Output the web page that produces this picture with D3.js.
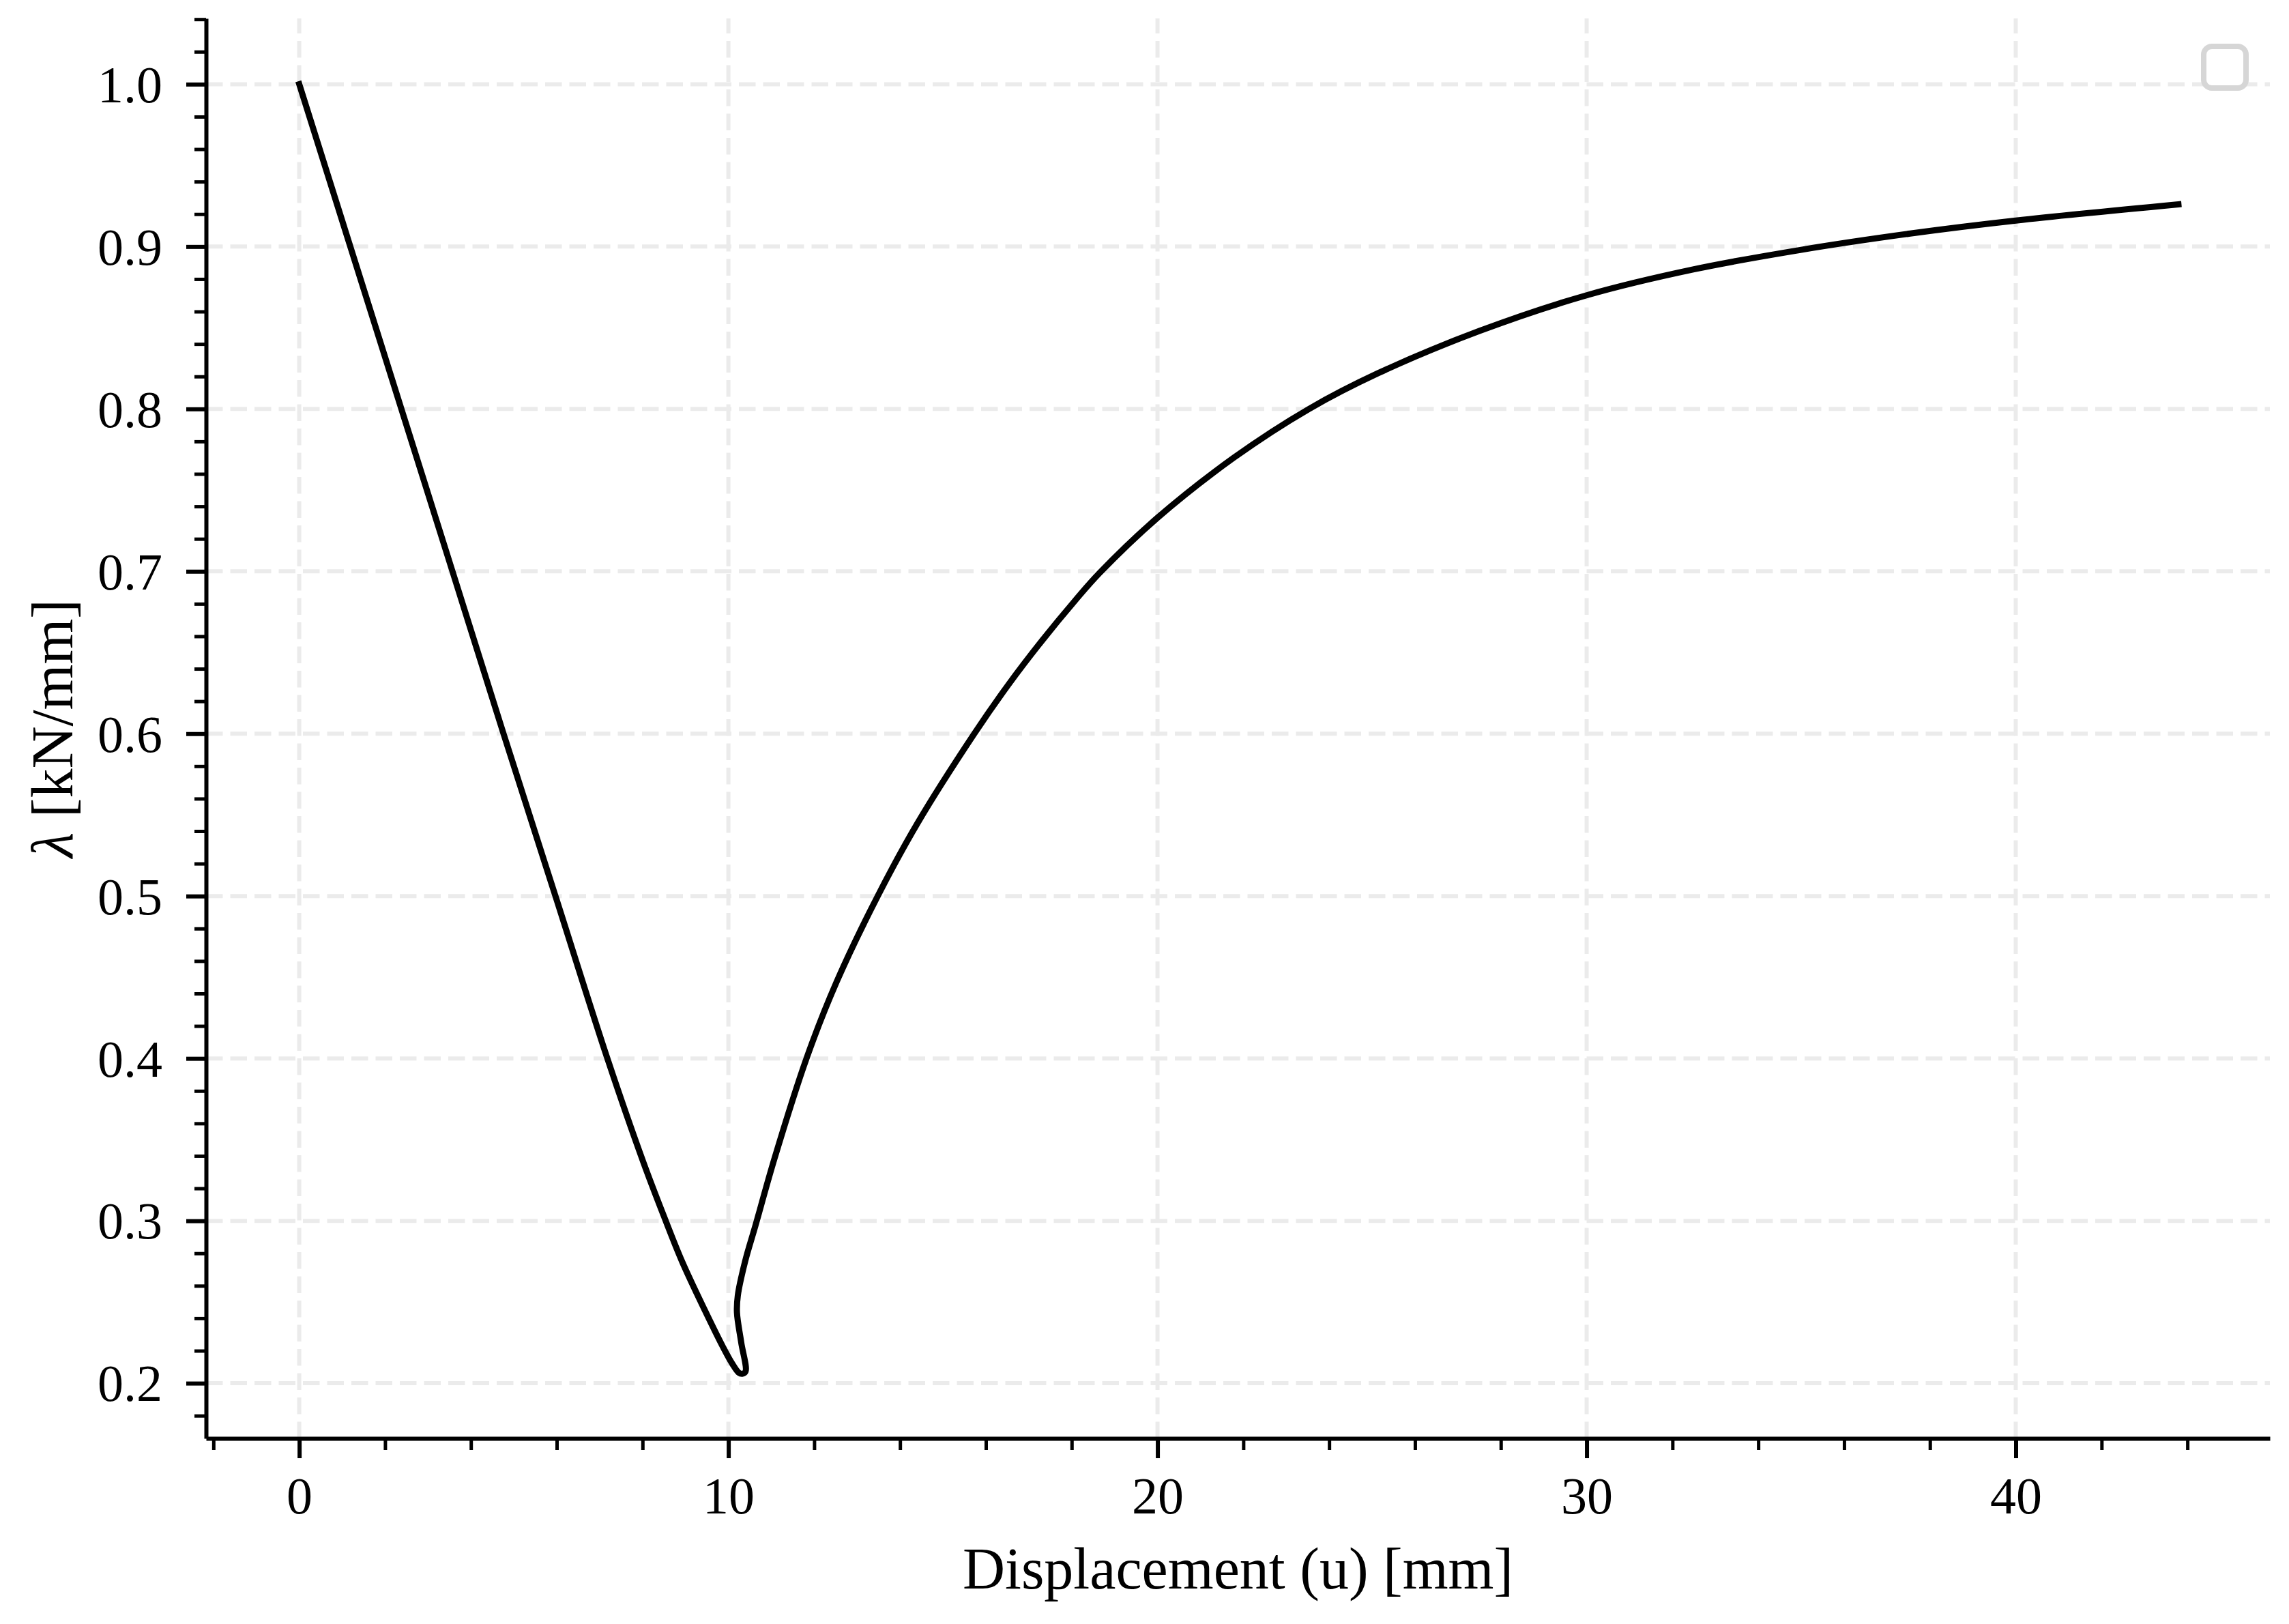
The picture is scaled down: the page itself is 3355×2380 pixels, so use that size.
<!DOCTYPE html>
<html>
<head>
<meta charset="utf-8">
<script src="https://cdn.jsdelivr.net/npm/d3@7"></script>
<style>
  html, body { margin: 0; padding: 0; background: #ffffff; }
  svg { display: block; }
</style>
</head>
<body>
<div id="chart"></div>
<script>
// ---- Data ----
const displacement = [
  0.00, 1.19, 2.38, 3.57, 4.76, 5.97, 7.18, 8.02, 8.51, 8.92, 9.45, 9.88, 10.09, 10.24, 10.32, 10.40,
  10.30, 10.20, 10.22, 10.39, 10.63, 11.07, 11.82, 12.52, 13.48, 14.41, 15.73, 16.52, 17.30, 18.08, 18.65,
  20.00, 21.78, 23.53, 25.14, 27.50, 30.00, 32.50, 35.00, 37.54, 40.00, 43.79
];
const lambda = [
  1.000, 0.900, 0.800, 0.700, 0.600, 0.500, 0.400, 0.336, 0.302, 0.275, 0.245, 0.222, 0.212, 0.2065, 0.2058, 0.2072,
  0.225, 0.2435, 0.254, 0.275, 0.297, 0.338, 0.400, 0.447, 0.500, 0.545, 0.600, 0.630, 0.657, 0.682, 0.699,
  0.733, 0.770, 0.800, 0.822, 0.848, 0.870, 0.886, 0.898, 0.908, 0.916, 0.926
];
const xTickValues = [0, 10, 20, 30, 40];
const yTickValues = [0.2, 0.3, 0.4, 0.5, 0.6, 0.7, 0.8, 0.9, 1.0];
const xMinorValues = [-2, 2, 4, 6, 8, 12, 14, 16, 18, 22, 24, 26, 28, 32, 34, 36, 38, 42, 44];
const yMinorValues = [0.18, 0.22, 0.24, 0.26, 0.28, 0.32, 0.34, 0.36, 0.38, 0.42, 0.44, 0.46, 0.48,
  0.52, 0.54, 0.56, 0.58, 0.62, 0.64, 0.66, 0.68, 0.72, 0.74, 0.76, 0.78, 0.82, 0.84, 0.86, 0.88,
  0.92, 0.94, 0.96, 0.98, 1.02, 1.04];
const xLabel = "Displacement (u) [mm]";
const yLabelSymbol = "λ";
const yLabelUnit = " [kN/mm]";

// ---- Layout ----
const W = 3355, H = 2380;
const plotL = 302, plotR = 3327, plotT = 27, plotB = 2108;
const font = "'Liberation Serif', 'DejaVu Serif', serif";

const svg = d3.select("#chart").append("svg")
  .attr("width", W).attr("height", H)
  .attr("viewBox", `0 0 ${W} ${H}`);
svg.append("rect").attr("width", W).attr("height", H).attr("fill", "#ffffff");

const x = d3.scaleLinear().domain([-2.172, 45.922]).range([plotL, plotR]);
const y = d3.scaleLinear().domain([0.166, 1.0405]).range([plotB, plotT]);

// ---- Grid ----
const grid = svg.append("g");
grid.selectAll("line.gx").data(xTickValues).join("line")
  .attr("class", "gx")
  .attr("x1", d => x(d)).attr("x2", d => x(d))
  .attr("y1", plotB).attr("y2", plotT)
  .attr("stroke", "#ebebeb").attr("stroke-width", 6)
  .attr("stroke-dasharray", "24.5 11");
grid.selectAll("line.gy").data(yTickValues).join("line")
  .attr("class", "gy")
  .attr("x1", plotL).attr("x2", plotR)
  .attr("y1", d => y(d)).attr("y2", d => y(d))
  .attr("stroke", "#ebebeb").attr("stroke-width", 6)
  .attr("stroke-dasharray", "24.5 11");

// ---- Data line ----
const pts = displacement.map((u, i) => [u, lambda[i]]);
const line = d3.line().x(d => x(d[0])).y(d => y(d[1])).curve(d3.curveCatmullRom.alpha(0.5));
svg.append("path").datum(pts)
  .attr("d", line)
  .attr("fill", "none")
  .attr("stroke", "#000000")
  .attr("stroke-width", 9)
  .attr("stroke-linejoin", "round")
  .attr("stroke-linecap", "square");

// ---- Axes ----
const xAxis = d3.axisBottom(x).tickValues(xTickValues).tickSize(29).tickSizeOuter(0).tickPadding(0)
  .tickFormat(d3.format("d"));
const gx = svg.append("g").attr("transform", `translate(0,${plotB})`).call(xAxis);
gx.select(".domain").attr("stroke", "#000").attr("stroke-width", 6);
gx.selectAll(".tick line").attr("stroke", "#000").attr("stroke-width", 6);
gx.selectAll(".tick text")
  .attr("y", 110).attr("dy", null)
  .attr("fill", "#000")
  .style("font-family", font).style("font-size", "76px");

const gxm = svg.append("g").attr("transform", `translate(0,${plotB})`)
  .call(d3.axisBottom(x).tickValues(xMinorValues).tickSize(17).tickSizeOuter(0).tickFormat(""));
gxm.select(".domain").remove();
gxm.selectAll(".tick line").attr("stroke", "#000").attr("stroke-width", 5);

const yAxis = d3.axisLeft(y).tickValues(yTickValues).tickSize(29).tickSizeOuter(0).tickPadding(0)
  .tickFormat(d3.format(".1f"));
const gy = svg.append("g").attr("transform", `translate(${plotL},0)`).call(yAxis);
gy.select(".domain").attr("stroke", "#000").attr("stroke-width", 6);
gy.selectAll(".tick line").attr("stroke", "#000").attr("stroke-width", 6);
gy.selectAll(".tick text")
  .attr("x", -64).attr("dy", "0.34em")
  .attr("fill", "#000")
  .style("font-family", font).style("font-size", "76px");

const gym = svg.append("g").attr("transform", `translate(${plotL},0)`)
  .call(d3.axisLeft(y).tickValues(yMinorValues).tickSize(17).tickSizeOuter(0).tickFormat(""));
gym.select(".domain").remove();
gym.selectAll(".tick line").attr("stroke", "#000").attr("stroke-width", 5);

// ---- Axis labels ----
svg.append("text")
  .attr("x", (plotL + plotR) / 2).attr("y", 2328)
  .attr("text-anchor", "middle")
  .attr("fill", "#000")
  .style("font-family", font).style("font-size", "86px")
  .text(xLabel);

const yl = svg.append("text")
  .attr("transform", `translate(106,${(plotT + plotB) / 2}) rotate(-90)`)
  .attr("text-anchor", "middle")
  .attr("fill", "#000")
  .style("font-family", font).style("font-size", "86px");
yl.append("tspan").style("font-style", "italic").text(yLabelSymbol);
yl.append("tspan").text(yLabelUnit);

// ---- Empty legend frame (top right) ----
svg.append("rect")
  .attr("x", plotR - 97).attr("y", plotT + 41)
  .attr("width", 62).attr("height", 61)
  .attr("rx", 12).attr("ry", 12)
  .attr("fill", "#ffffff")
  .attr("stroke", "#d6d6d6").attr("stroke-width", 8);
</script>
</body>
</html>
